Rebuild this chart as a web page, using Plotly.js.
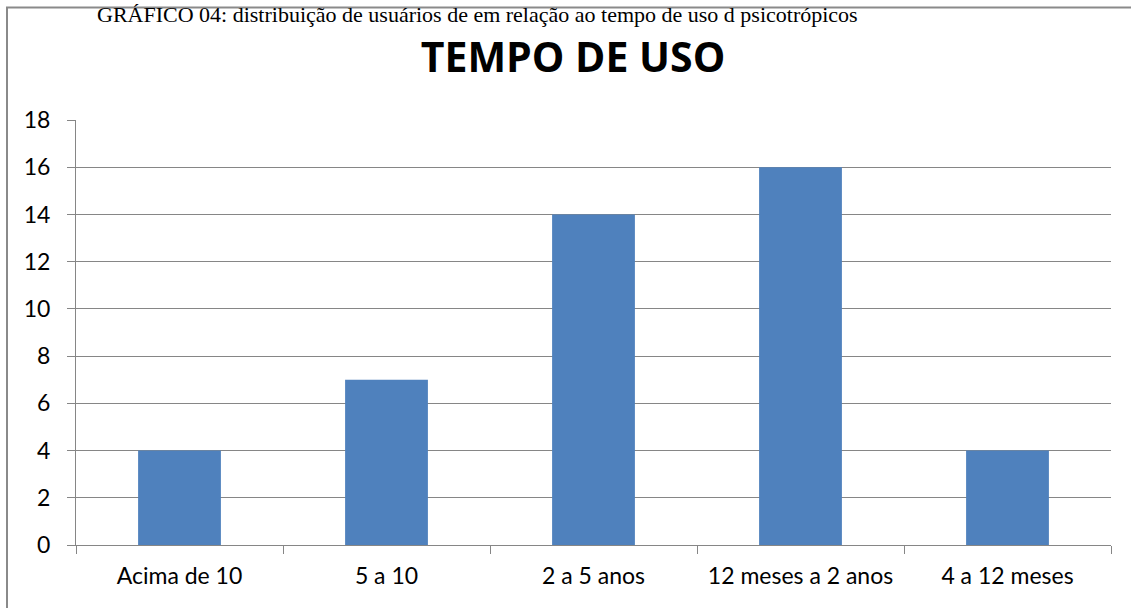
<!DOCTYPE html>
<html>
<head>
<meta charset="utf-8">
<script src="https://cdn.plot.ly/plotly-3.0.1.min.js"></script>
<style>html,body{margin:0;padding:0;background:#fff;}</style>
</head>
<body>
<div id="chart" style="width:1131px;height:608px;"></div>
<script>
const categories = ["Acima de 10", "5 a 10", "2 a 5 anos", "12 meses a 2 anos", "4 a 12 meses"];
const values = [4, 7, 14, 16, 4];
const yTicks = [0, 2, 4, 6, 8, 10, 12, 14, 16, 18];
const chartTitle = "TEMPO DE USO";
const caption = "GRÁFICO 04: distribuição de usuários de em relação ao tempo de uso d psicotrópicos";

const font = "Lato, 'Open Sans', sans-serif";
const trace = {
  type: "bar",
  x: categories,
  y: values,
  marker: {color: "#4F81BD"},
  width: 0.4,
  hoverinfo: "x+y"
};
const layout = {
  width: 1131, height: 608,
  margin: {l: 76, r: 20, t: 120, b: 63},
  paper_bgcolor: "#fff", plot_bgcolor: "#fff",
  showlegend: false,
  title: {text: "<b>" + chartTitle + "</b>", font: {family: "'Open Sans', sans-serif", size: 41, color: "#000"}, x: 573/1131, xanchor: "center", y: 1 - 58/608, yanchor: "middle"},
  xaxis: {
    type: "category",
    tickson: "boundaries",
    ticks: "outside", ticklen: 8, tickcolor: "#868686", tickwidth: 1,
    showline: true, linecolor: "#868686", linewidth: 1,
    showgrid: false,
    tickfont: {family: font, size: 23, color: "#000"},
    ticklabelstandoff: 10
  },
  yaxis: {
    range: [0, 18],
    tickvals: yTicks,
    ticks: "outside", ticklen: 8, tickcolor: "#868686", tickwidth: 1,
    showline: true, linecolor: "#868686", linewidth: 1,
    showgrid: true, gridcolor: "#868686", gridwidth: 1,
    zeroline: false,
    tickfont: {family: font, size: 23, color: "#000"},
    ticklabelstandoff: 12
  },
  shapes: [{
    type: "rect", xref: "paper", yref: "paper",
    x0: (7 - 76) / 1035, x1: (1145 - 76) / 1035, y0: -0.2, y1: (545 - 7.5) / 425,
    line: {color: "#8a8a8a", width: 2}, fillcolor: "rgba(0,0,0,0)", layer: "below"
  }],
  annotations: [{
    text: caption, xref: "paper", yref: "paper",
    x: (477 - 76) / 1035, y: 545 / 425, xanchor: "center", yanchor: "top",
    showarrow: false,
    font: {family: "'Liberation Serif', serif", size: 22, color: "#000"}
  }]
};
Plotly.newPlot("chart", [trace], layout, {displayModeBar: false, staticPlot: true});
</script>
</body>
</html>
